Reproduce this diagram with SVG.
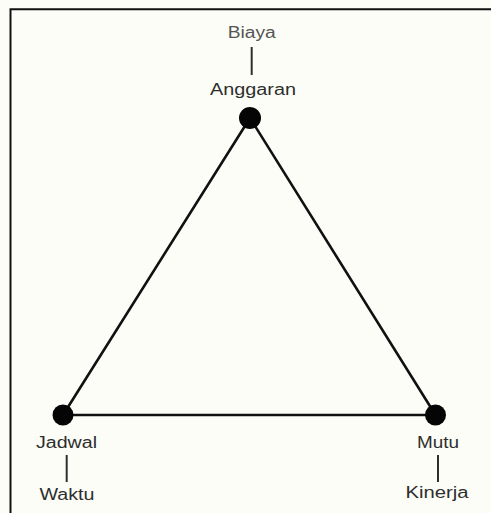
<svg xmlns="http://www.w3.org/2000/svg" width="491" height="513" viewBox="0 0 491 513">
  <style>
    .lbl { font-family: "Liberation Sans", Arial, sans-serif; font-size: 16px; fill: #2e2e2e; text-anchor: middle; }
    .tick { stroke: #2e2e2e; stroke-width: 2; }
    .edge { stroke: #111; stroke-width: 2.6; fill: none; stroke-linecap: round; }
    .dot { fill: #050505; }
  </style>
  <rect x="0" y="0" width="491" height="513" fill="#fdfdf7"/>
  <path d="M10.5 513 V9.3 H491" fill="none" stroke="#111" stroke-width="2"/>

  <g id="connectors">
    <line class="edge" x1="250" y1="118" x2="63" y2="415"/>
    <line class="edge" x1="250" y1="118" x2="435.5" y2="415"/>
    <line class="edge" x1="63" y1="415" x2="435.5" y2="415"/>
  </g>

  <g id="node-anggaran">
    <text class="lbl" x="251.7" y="38" textLength="48" lengthAdjust="spacingAndGlyphs" fill="#555" style="fill:#555">Biaya</text>
    <line class="tick" x1="251.7" y1="47" x2="251.7" y2="75"/>
    <text class="lbl" x="253" y="95" textLength="86" lengthAdjust="spacingAndGlyphs">Anggaran</text>
    <circle class="dot" cx="250" cy="118" r="11"/>
  </g>

  <g id="node-jadwal">
    <circle class="dot" cx="63" cy="415" r="10.5"/>
    <text class="lbl" x="66.5" y="448" textLength="61" lengthAdjust="spacingAndGlyphs">Jadwal</text>
    <line class="tick" x1="66.7" y1="455" x2="66.7" y2="482"/>
    <text class="lbl" x="67" y="500" textLength="55" lengthAdjust="spacingAndGlyphs">Waktu</text>
  </g>

  <g id="node-mutu">
    <circle class="dot" cx="435.5" cy="415" r="10.5"/>
    <text class="lbl" x="438" y="448" textLength="42" lengthAdjust="spacingAndGlyphs">Mutu</text>
    <line class="tick" x1="438" y1="455" x2="438" y2="482"/>
    <text class="lbl" x="437" y="498" textLength="63" lengthAdjust="spacingAndGlyphs">Kinerja</text>
  </g>
</svg>
